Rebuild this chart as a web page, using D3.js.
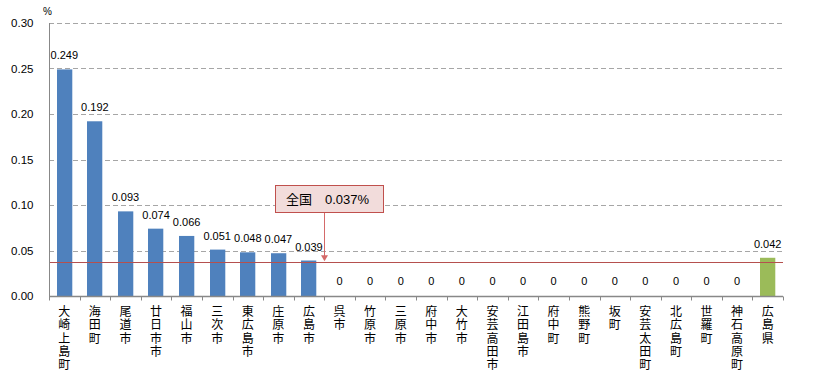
<!DOCTYPE html>
<html>
<head>
<meta charset="utf-8">
<script src="https://cdn.jsdelivr.net/npm/d3@7"></script>
<style>
  body { margin: 0; background: #fff; }
  text { font-family: "Liberation Sans", Arial, sans-serif; }
  .cjk { font-family: "Noto Sans CJK JP", sans-serif; }
</style>
</head>
<body>
<svg id="chart" width="813" height="379"></svg>
<script>
const categories = ["大崎上島町", "海田町", "尾道市", "廿日市市", "福山市", "三次市", "東広島市", "庄原市", "広島市",
  "呉市", "竹原市", "三原市", "府中市", "大竹市", "安芸高田市", "江田島市", "府中町", "熊野町", "坂町",
  "安芸太田町", "北広島町", "世羅町", "神石高原町", "広島県"];
const values = [0.249, 0.192, 0.093, 0.074, 0.066, 0.051, 0.048, 0.047, 0.039,
  0, 0, 0, 0, 0, 0, 0, 0, 0, 0, 0, 0, 0, 0, 0.042];
const yTicks = [0, 0.05, 0.10, 0.15, 0.20, 0.25, 0.30];
const national = 0.037;
const nationalName = "全国";
const nationalValue = "0.037%";

const margin = { top: 23, right: 30, bottom: 83, left: 49 };
const width = 813;
const height = 379;
const svg = d3.select("#chart");

const x = d3.scaleBand().domain(categories).range([margin.left, width - margin.right]).paddingInner(0.5).paddingOuter(0.25);
const y = d3.scaleLinear().domain([0, 0.30]).range([height - margin.bottom, margin.top]);
const plotW = width - margin.right - margin.left;

// gridlines
svg.append("g")
  .selectAll("line")
  .data(yTicks.slice(1))
  .enter()
  .append("line")
  .attr("x1", margin.left)
  .attr("x2", width - margin.right)
  .attr("y1", d => Math.round(y(d)) + 0.5)
  .attr("y2", d => Math.round(y(d)) + 0.5)
  .attr("stroke", "#a6a6a6")
  .attr("stroke-dasharray", "5,3");

// bars
svg.append("g")
  .selectAll("rect")
  .data(values)
  .enter()
  .append("rect")
  .attr("x", (d, i) => Math.round(x(categories[i])))
  .attr("y", d => y(d))
  .attr("width", x.bandwidth())
  .attr("height", d => y(0) - y(d))
  .attr("fill", (d, i) => i === categories.length - 1 ? "#9bbb59" : "#4f81bd");

// value labels
svg.append("g")
  .selectAll("text")
  .data(values)
  .enter()
  .append("text")
  .attr("x", (d, i) => x(categories[i]) + x.bandwidth() / 2)
  .attr("y", d => y(d) - (d === 0 ? 11 : 10))
  .attr("text-anchor", "middle")
  .attr("font-size", "11px")
  .attr("fill", "#000")
  .text(d => d === 0 ? "0" : d.toFixed(3));

// national line
svg.append("line")
  .attr("x1", margin.left)
  .attr("x2", width - margin.right)
  .attr("y1", Math.round(y(national)) + 0.5)
  .attr("y2", Math.round(y(national)) + 0.5)
  .attr("stroke", "#b5504e")
  .attr("stroke-width", 1.2);

// y axis
const yAxis = svg.append("g").attr("transform", `translate(${margin.left + 0.5},0)`);
yAxis.append("line")
  .attr("y1", y(0.30))
  .attr("y2", y(0))
  .attr("stroke", "#888");
yAxis.selectAll("text")
  .data(yTicks)
  .enter()
  .append("text")
  .attr("x", -16)
  .attr("y", d => y(d))
  .attr("dy", "0.35em")
  .attr("text-anchor", "end")
  .attr("font-size", "11.5px")
  .text(d => d.toFixed(2));
svg.append("text")
  .attr("x", 43)
  .attr("y", 15)
  .attr("font-size", "10px")
  .text("%");

// x axis
const xAxis = svg.append("g").attr("transform", `translate(0,${Math.round(y(0)) + 0.5})`);
xAxis.append("line")
  .attr("x1", margin.left)
  .attr("x2", width - margin.right)
  .attr("stroke", "#888")
  .attr("stroke-width", 1.5);
xAxis.selectAll(".tick")
  .data(d3.range(categories.length + 1))
  .enter()
  .append("line")
  .attr("x1", i => Math.round(margin.left + i * plotW / categories.length) + 0.5)
  .attr("x2", i => Math.round(margin.left + i * plotW / categories.length) + 0.5)
  .attr("y1", 0)
  .attr("y2", 4)
  .attr("stroke", "#888");

// vertical category labels, one character per text
const chars = categories.flatMap(d => Array.from(d).map((ch, k) => ({ cat: d, ch, k })));
svg.append("g")
  .selectAll("text")
  .data(chars)
  .enter()
  .append("text")
  .attr("class", "cjk")
  .attr("font-size", "12px")
  .attr("text-anchor", "middle")
  .attr("x", d => x(d.cat) + x.bandwidth() / 2)
  .attr("y", d => 316 + d.k * 13.3)
  .text(d => d.ch);

// callout
const bx = 275, by = 185, bw = 108, bh = 27;
const ax = Math.round(margin.left + 9 * plotW / categories.length) + 0.5;
svg.append("line")
  .attr("x1", ax).attr("x2", ax)
  .attr("y1", by + bh)
  .attr("y2", y(national) - 6)
  .attr("stroke", "#d46a6a")
  .attr("stroke-width", 1);
svg.append("path")
  .attr("d", `M${ax - 3.5},${y(national) - 7} L${ax + 3.5},${y(national) - 7} L${ax},${y(national) - 1} Z`)
  .attr("fill", "#d46a6a");
svg.append("rect")
  .attr("x", bx + 0.5).attr("y", by + 0.5)
  .attr("width", bw).attr("height", bh)
  .attr("fill", "#f2dcdb")
  .attr("stroke", "#c0504d");
svg.append("text")
  .attr("class", "cjk")
  .attr("x", bx + 11)
  .attr("y", by + bh / 2 + 5)
  .attr("font-size", "13px")
  .text(nationalName);
svg.append("text")
  .attr("x", bx + 50)
  .attr("y", by + bh / 2 + 5)
  .attr("font-size", "13px")
  .text(nationalValue);
</script>
</body>
</html>
